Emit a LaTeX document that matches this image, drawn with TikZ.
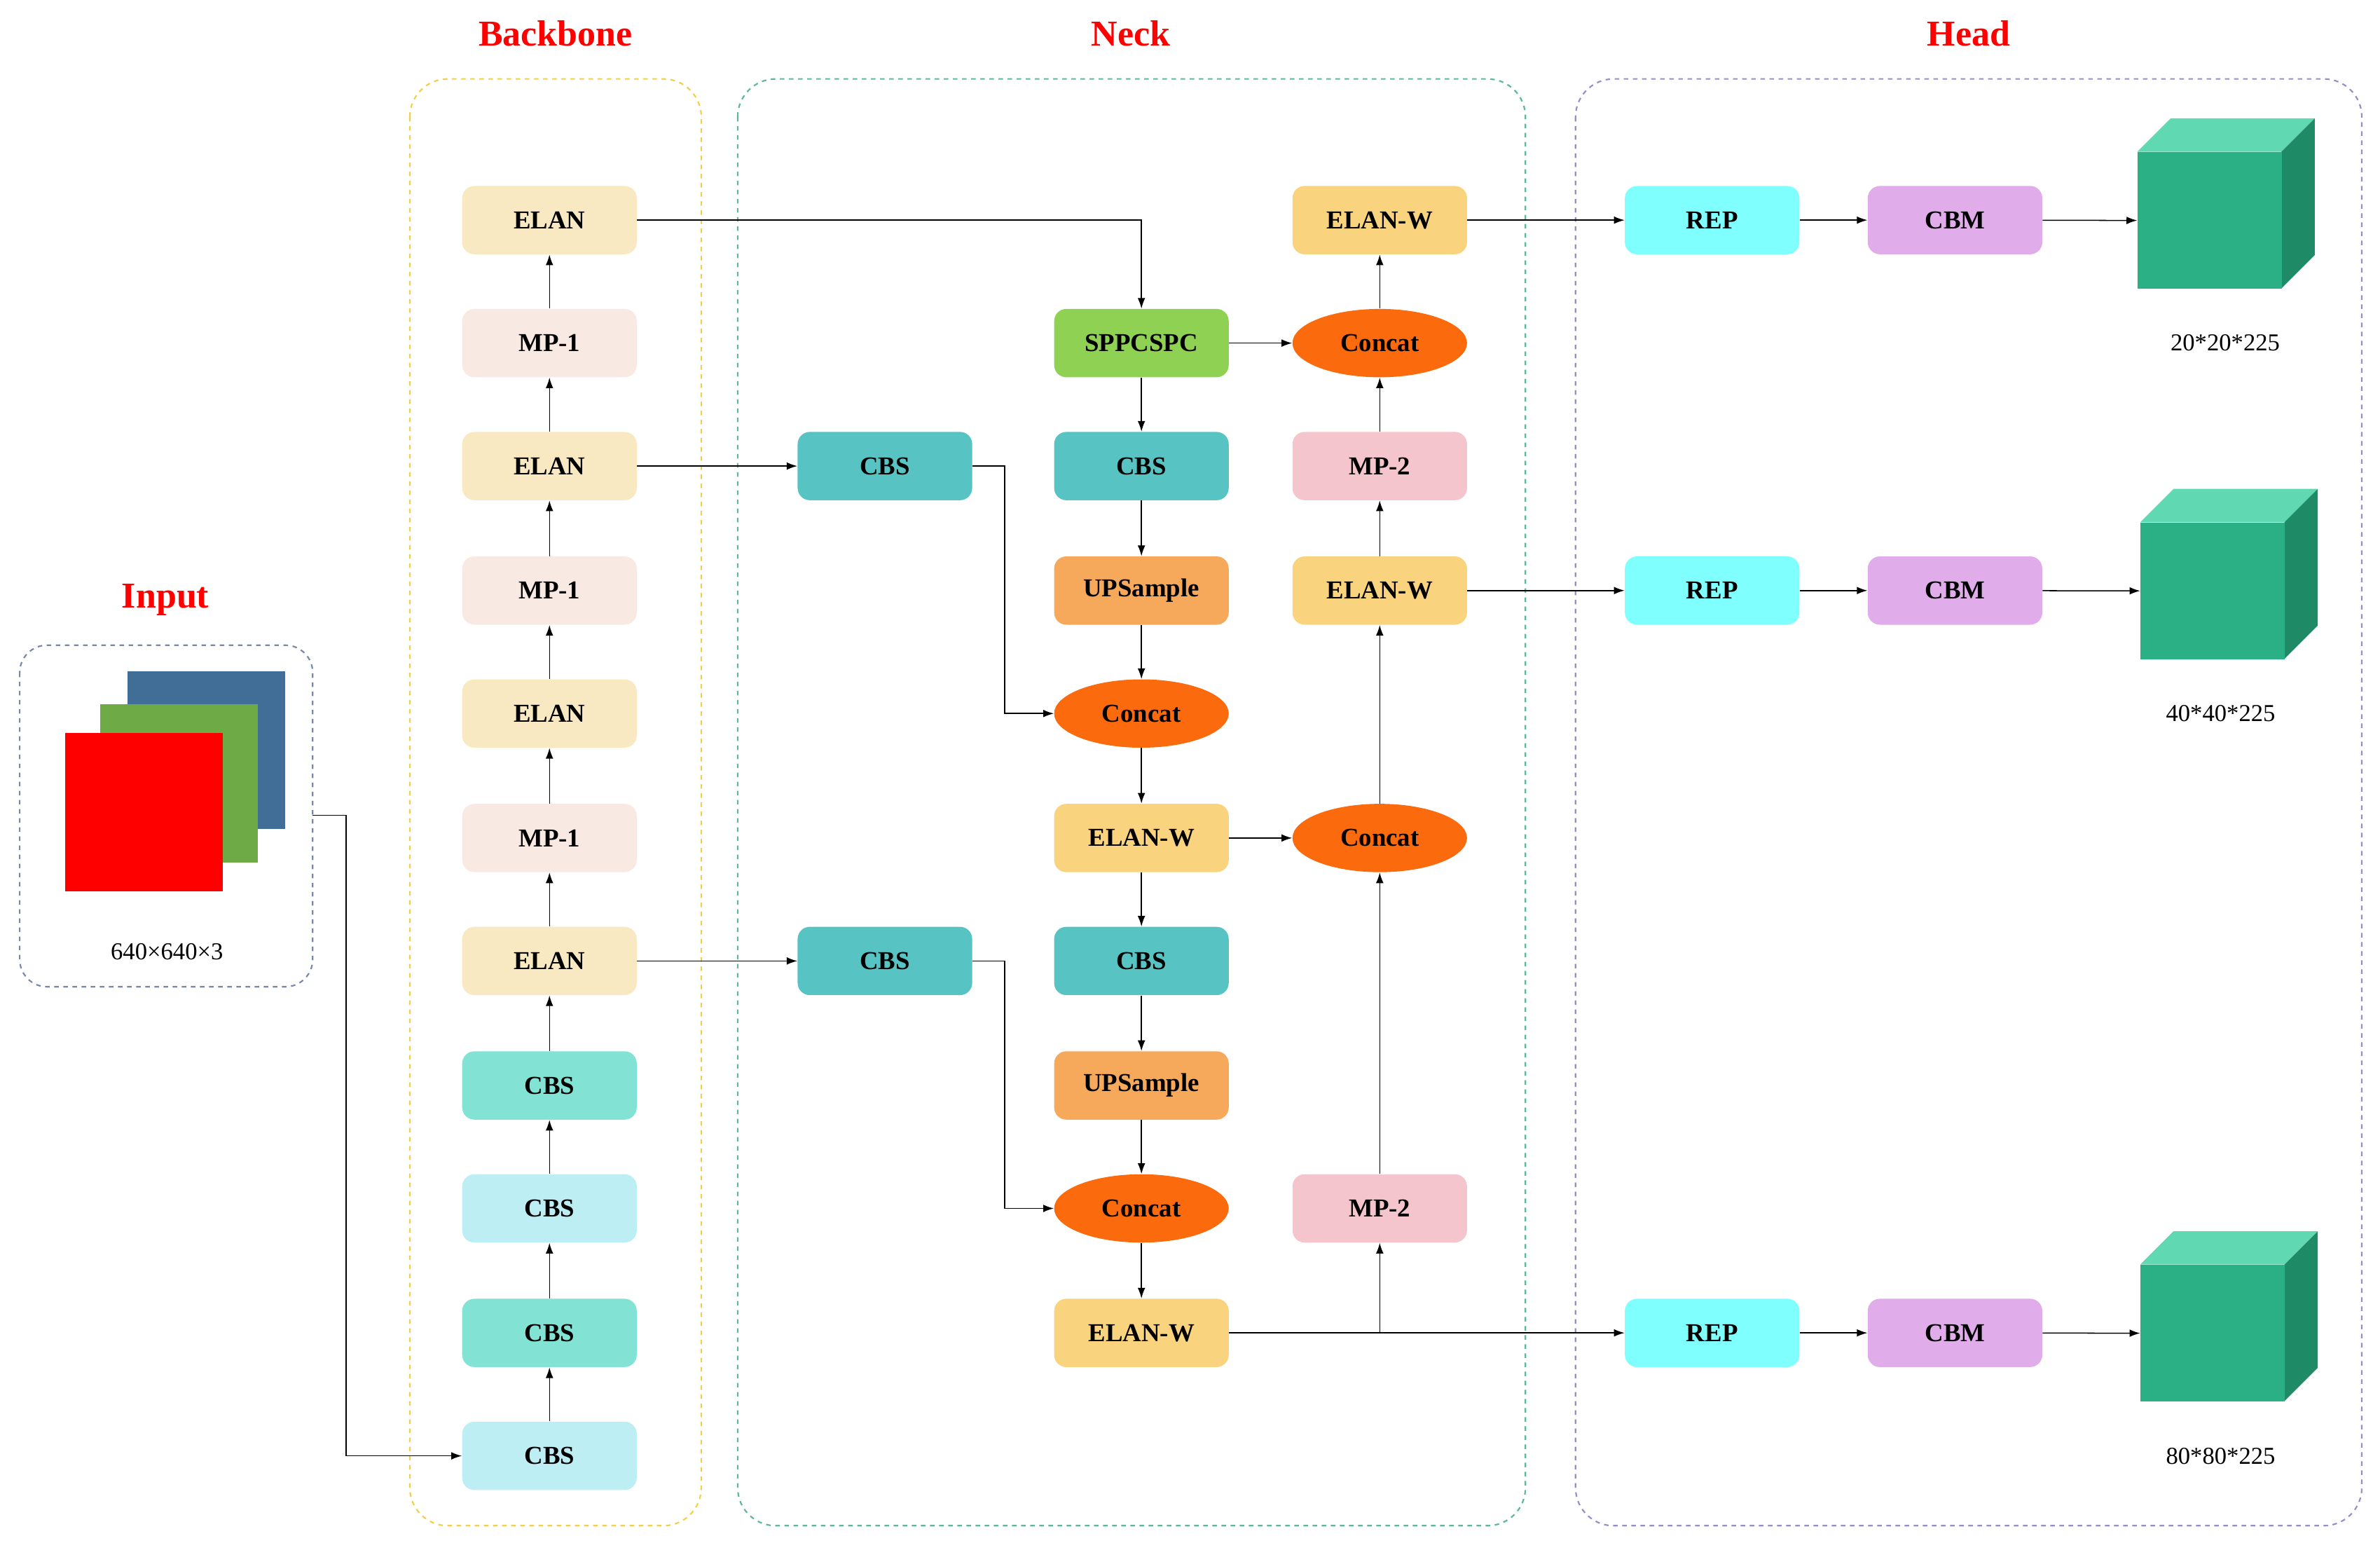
\documentclass[tikz,border=0pt]{standalone}
\usepackage{fontspec}
\setmainfont{Liberation Serif}
\usetikzlibrary{shapes.geometric,arrows.meta}
\definecolor{elan}{HTML}{F9E9C3}
\definecolor{mpone}{HTML}{F8E9E3}
\definecolor{cbsa}{HTML}{82E3D4}
\definecolor{cbsb}{HTML}{BCEEF4}
\definecolor{cbsn}{HTML}{58C3C3}
\definecolor{spp}{HTML}{8FD153}
\definecolor{ups}{HTML}{F6A95B}
\definecolor{cat}{HTML}{FB6A0C}
\definecolor{elw}{HTML}{F9D37D}
\definecolor{mptwo}{HTML}{F4C5CC}
\definecolor{rep}{HTML}{80FFFF}
\definecolor{cbm}{HTML}{E0ACE9}
\definecolor{cubef}{HTML}{2BAF84}
\definecolor{cubet}{HTML}{60D8B2}
\definecolor{cubes}{HTML}{1F8A66}
\definecolor{inblue}{HTML}{416E96}
\definecolor{ingreen}{HTML}{6EAA46}
\definecolor{fyel}{HTML}{F2CF4A}
\definecolor{fgrn}{HTML}{5DB89A}
\definecolor{fpur}{HTML}{9A8CC4}
\definecolor{fgry}{HTML}{7A87A8}
\begin{document}
\begin{tikzpicture}[x=1pt,y=-1pt,
  box/.style={draw=none,rounded corners=8pt,minimum width=115pt,minimum height=45pt,font=\fontsize{17}{20}\selectfont\bfseries,inner sep=0pt},
  ell/.style={ellipse,fill=cat,minimum width=115pt,minimum height=45pt,font=\fontsize{17}{20}\selectfont\bfseries,inner sep=0pt},
  ar/.style={-{Latex[length=7pt,width=5pt]},line width=0.7pt},
  frame/.style={dashed,rounded corners=25pt,line width=1pt},
  ttl/.style={text=red,font=\fontsize{24}{28}\selectfont\bfseries},
  lbl/.style={font=\fontsize{16}{19}\selectfont}]
\useasboundingbox (0,0) rectangle (1568,1021);
% frames
\draw[frame,draw=fyel] (270,52) rectangle (462,1005);
\draw[frame,draw=fgrn] (486,52) rectangle (1005,1005);
\draw[frame,draw=fpur] (1038,52) rectangle (1556,1005);
\draw[frame,draw=fgry,rounded corners=18pt] (13,425) rectangle (206,650);
\node[ttl] (tb) at (366,22) {Backbone};
\node[ttl] (tn) at (745,22) {Neck};
\node[ttl] (th) at (1297,22) {Head};
\node[ttl] (ti) at (109,395) {Input};
% input
\fill[inblue] (84,442) rectangle (188,546);
\fill[ingreen] (66,464) rectangle (170,568);
\fill[red] (43,483) rectangle (147,587);
\coordinate (inp) at (206,537);
\node[lbl] (il) at (110,627) {640×640×3};
% backbone
\node[box,fill=elan] (b1) at (362,145) {ELAN};
\node[box,fill=mpone] (b2) at (362,226) {MP-1};
\node[box,fill=elan] (b3) at (362,307) {ELAN};
\node[box,fill=mpone] (b4) at (362,389) {MP-1};
\node[box,fill=elan] (b5) at (362,470) {ELAN};
\node[box,fill=mpone] (b6) at (362,552) {MP-1};
\node[box,fill=elan] (b7) at (362,633) {ELAN};
\node[box,fill=cbsa] (b8) at (362,715) {CBS};
\node[box,fill=cbsb] (b9) at (362,796) {CBS};
\node[box,fill=cbsa] (b10) at (362,878) {CBS};
\node[box,fill=cbsb] (b11) at (362,959) {CBS};
\foreach \a/\b in {b11/b10,b10/b9,b9/b8,b8/b7,b7/b6,b6/b5,b5/b4,b4/b3,b3/b2,b2/b1}
  \draw[ar] (\a) -- (\b);
\draw[ar] (inp) -- (228,537) |- (b11.west);
% neck
\node[box,fill=cbsn] (n1) at (583,307) {CBS};
\node[box,fill=cbsn] (n2) at (583,633) {CBS};
\node[box,fill=spp] (c1) at (752,226) {SPPCSPC};
\node[box,fill=cbsn] (c2) at (752,307) {CBS};
\node[box,fill=ups] (c3) at (752,389) {UPSample};
\node[ell] (c4) at (752,470) {Concat};
\node[box,fill=elw] (c5) at (752,552) {ELAN-W};
\node[box,fill=cbsn] (c6) at (752,633) {CBS};
\node[box,fill=ups] (c7) at (752,715) {UPSample};
\node[ell] (c8) at (752,796) {Concat};
\node[box,fill=elw] (c9) at (752,878) {ELAN-W};
\node[box,fill=elw] (d1) at (909,145) {ELAN-W};
\node[ell] (d2) at (909,226) {Concat};
\node[box,fill=mptwo] (d3) at (909,307) {MP-2};
\node[box,fill=elw] (d4) at (909,389) {ELAN-W};
\node[ell] (d5) at (909,552) {Concat};
\node[box,fill=mptwo] (d6) at (909,796) {MP-2};
\foreach \a/\b in {c1/c2,c2/c3,c3/c4,c4/c5,c5/c6,c6/c7,c7/c8,c8/c9,d6/d5,d5/d4,d4/d3,d3/d2,d2/d1}
  \draw[ar] (\a) -- (\b);
\draw[ar] (b1.east) -| (c1.north);
\draw[ar] (b3) -- (n1);
\draw[ar] (b7) -- (n2);
\draw[ar] (n1.east) -- (662,307) |- (c4.west);
\draw[ar] (n2.east) -- (662,633) |- (c8.west);
\draw[ar] (c1) -- (d2);
\draw[ar] (c5) -- (d5);
% head
\node[box,fill=rep] (r1) at (1128,145) {REP};
\node[box,fill=rep] (r2) at (1128,389) {REP};
\node[box,fill=rep] (r3) at (1128,878) {REP};
\node[box,fill=cbm] (m1) at (1288,145) {CBM};
\node[box,fill=cbm] (m2) at (1288,389) {CBM};
\node[box,fill=cbm] (m3) at (1288,878) {CBM};
\coordinate (j) at (909,878);
\draw[ar] (c9) -- (r3);
\draw[ar] (j) -- (d6);
\draw[ar] (d1) -- (r1);
\draw[ar] (d4) -- (r2);
\foreach \a/\b in {r1/m1,r2/m2,r3/m3} \draw[ar] (\a) -- (\b);
% cubes
\foreach \n/\x/\y in {1/1408/100,2/1410/344,3/1410/833}{
  \fill[cubet] (\x,\y) -- ++(22,-22) -- ++(95,0) -- ++(-22,22) -- cycle;
  \fill[cubes] (\x+95,\y) -- ++(22,-22) -- ++(0,90) -- ++(-22,22) -- cycle;
  \node[fill=cubef,minimum width=95pt,minimum height=90pt,inner sep=0pt,anchor=north west] (q\n) at (\x,\y) {};
}
\draw[ar] (m1) -- (q1.west);
\draw[ar] (m2) -- (q2.west);
\draw[ar] (m3) -- (q3.west);
\node[lbl] (l1) at (1466,226) {20*20*225};
\node[lbl] (l2) at (1463,470) {40*40*225};
\node[lbl] (l3) at (1463,959) {80*80*225};
\end{tikzpicture}
\end{document}
